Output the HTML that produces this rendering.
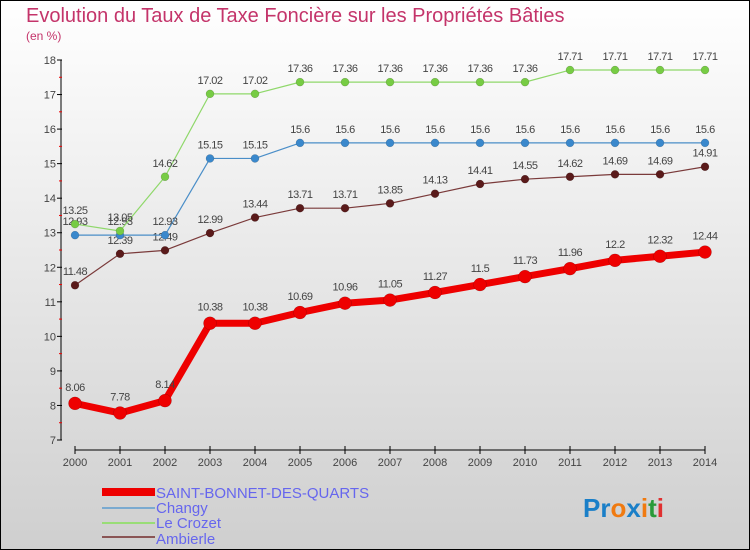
<!DOCTYPE html>
<html><head><meta charset="utf-8"><style>
body{margin:0;padding:0}
#wrap{width:750px;height:550px;position:relative;overflow:hidden;font-family:"Liberation Sans",sans-serif}
</style></head><body>
<div id="wrap">
<svg id="chart" width="750" height="550" xmlns="http://www.w3.org/2000/svg">
<defs><linearGradient id="bg" x1="0" y1="0" x2="0" y2="1"><stop offset="0" stop-color="#ffffff"/><stop offset="1" stop-color="#cfcfcf"/></linearGradient></defs>
<rect x="0.5" y="0.5" width="749" height="549" fill="url(#bg)" stroke="#000"/>
<text x="26" y="22" font-size="20" fill="#c4346a">Evolution du Taux de Taxe Foncière sur les Propriétés Bâties</text>
<text x="26" y="40" font-size="12" fill="#c4346a">(en %)</text>
<g id="axes"></g>
<g id="series"></g>
<g>
<rect x="102" y="488" width="53" height="8" fill="#ee0000"/>
<text x="156" y="498" font-size="15" fill="#6666ee">SAINT-BONNET-DES-QUARTS</text>
<rect x="102" y="507" width="53" height="2" fill="#7aaad0"/>
<text x="156" y="513" font-size="15" fill="#6666ee">Changy</text>
<rect x="102" y="522" width="53" height="2" fill="#99dd77"/>
<text x="156" y="528" font-size="15" fill="#6666ee">Le Crozet</text>
<rect x="102" y="536" width="53" height="2" fill="#8a5555"/>
<text x="156" y="544" font-size="15" fill="#6666ee">Ambierle</text>
</g>
<text x="583" y="517" font-size="26" font-weight="bold"><tspan fill="#1a7fc8">Pr</tspan><tspan fill="#f07a10">o</tspan><tspan fill="#1a7fc8">x</tspan><tspan fill="#f07a10">i</tspan><tspan fill="#2a9a3a">t</tspan><tspan fill="#e03030">i</tspan></text>
</svg>
</div>
<script>
const years=[2000,2001,2002,2003,2004,2005,2006,2007,2008,2009,2010,2011,2012,2013,2014];
const yTicks=[7,8,9,10,11,12,13,14,15,16,17,18];
const sbdq=[8.06,7.78,8.14,10.38,10.38,10.69,10.96,11.05,11.27,11.5,11.73,11.96,12.2,12.32,12.44];
const changy=[12.93,12.93,12.93,15.15,15.15,15.6,15.6,15.6,15.6,15.6,15.6,15.6,15.6,15.6,15.6];
const crozet=[13.25,13.05,14.62,17.02,17.02,17.36,17.36,17.36,17.36,17.36,17.36,17.71,17.71,17.71,17.71];
const ambierle=[11.48,12.39,12.49,12.99,13.44,13.71,13.71,13.85,14.13,14.41,14.55,14.62,14.69,14.69,14.91];
const NS="http://www.w3.org/2000/svg";
function xS(i){return 75+i*(630/(years.length-1));}
function yS(v){return 440-(v-7)*(380/11);}
function mk(t,a,p){const e=document.createElementNS(NS,t);for(const k in a)e.setAttribute(k,a[k]);p.appendChild(e);return e;}
const ax=document.getElementById('axes');
let l=mk('line',{x1:61,y1:60,x2:61,y2:440,stroke:'#000','stroke-width':1},ax);


yTicks.forEach((v,i)=>{
 const t=mk('line',{x1:57,y1:yS(v),x2:62,y2:yS(v),stroke:'#000'},ax);
 
 
 const tx=mk('text',{x:56,y:yS(v)+4,'font-size':11,fill:'#444','text-anchor':'end'},ax);
 tx.textContent=v;
 
 
 if(i<yTicks.length-1){const m=mk('line',{x1:59,y1:yS(v+0.5),x2:62,y2:yS(v+0.5),stroke:'#e00'},ax);
 
 }
});
l=mk('line',{x1:75,y1:450,x2:705,y2:450,stroke:'#000'},ax);


years.forEach((y,i)=>{
 const t=mk('line',{x1:xS(i),y1:446,x2:xS(i),y2:454,stroke:'#000'},ax);
 
 
 const tx=mk('text',{x:xS(i),y:466,'font-size':11,fill:'#444','text-anchor':'middle'},ax);
 tx.textContent=y;
 
 
});
const sg=document.getElementById('series');
function draw(vals,name,color,w,r,dot){
 const g=mk('g',{},sg);
 
 
 const pts=vals.map((v,i)=>xS(i)+','+yS(v)).join(' ');
 const pl=mk('polyline',{points:pts,fill:'none',stroke:color,'stroke-width':w,'stroke-linejoin':'round'},g);
 
 
 vals.forEach((v,i)=>{
  const c=mk('circle',{cx:xS(i),cy:yS(v),r:r,fill:dot,stroke:'rgba(0,0,0,0.25)','stroke-width':0.5},g);
  
  
  const tx=mk('text',{x:xS(i),y:yS(v)-(r+6),'font-size':11,fill:'#444','text-anchor':'middle','letter-spacing':'-0.5'},g);
  tx.textContent=String(v);
  
  
 });
}
draw(ambierle,'ambierle','#7a3a3a',1.2,4,'#5a1a1a');
draw(changy,'changy','#4a8ec8',1.2,4,'#3a88cc');
draw(crozet,'le-crozet','#8fd86a',1.2,4,'#77cc44');
draw(sbdq,'saint-bonnet','#ee0000',7,6.5,'#ee0000');
</script>
</body></html>
